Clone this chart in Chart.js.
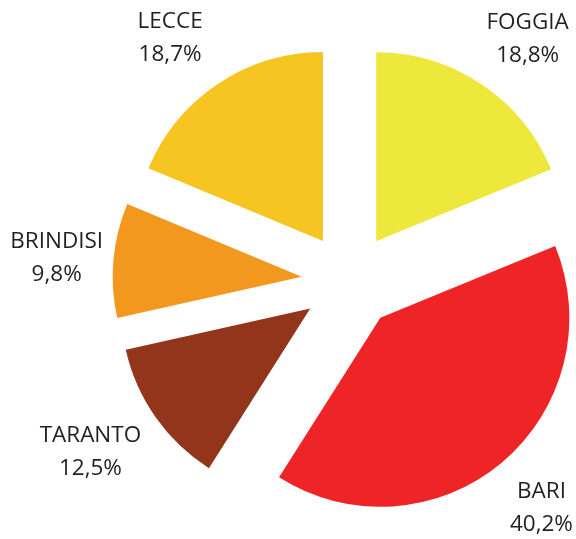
<!DOCTYPE html>
<html>
<head>
<meta charset="utf-8">
<script src="https://cdn.jsdelivr.net/npm/chart.js@4/dist/chart.umd.min.js"></script>
<style>
  html, body { margin: 0; padding: 0; background: #fff; }
  #wrap { width: 576px; height: 539px; }
</style>
</head>
<body>
<div id="wrap"><canvas id="myChartProvince"></canvas></div>
<script>
const provinceLabels = ['FOGGIA', 'BARI', 'TARANTO', 'BRINDISI', 'LECCE'];
const provinceValues = [18.8, 40.2, 12.5, 9.8, 18.7];
const provinceColors = ['#EEE73C', '#EE2426', '#93351B', '#F3981F', '#F6C522'];

// small hand nudges (px) for each label, on top of the bisector position
const labelShift = [[10, 8], [-2, -5], [-12, -3], [8, 3], [-12, 8]];

// Chart.js moves an arc by offset/4 but also grows its radius and trims its angle
// by an amount that depends on the slice size; undo both so slices look like plain wedges
const stessoRaggioPlugin = {
    id: 'stessoRaggio',
    beforeDatasetsDraw(chart) {
        const meta = chart.getDatasetMeta(0);
        const base = meta.controller.outerRadius;
        meta.data.forEach(arc => {
            const shift = (arc.options.offset || 0) / 4;
            const fix = 1 - Math.sin(Math.min(Math.PI, arc.circumference));
            const radiusOffset = shift * fix;
            arc.outerRadius = base - radiusOffset;
            const trim = radiusOffset / Math.PI / base / 2;
            arc.startAngle -= trim;
            arc.endAngle += trim;
        });
    }
};

// writes "NAME" and "xx,x%" outside each slice, along its bisector
const etichettePlugin = {
    id: 'etichette',
    afterDatasetsDraw(chart) {
        const ctx = chart.ctx;
        const meta = chart.getDatasetMeta(0);
        const base = meta.controller.outerRadius;
        ctx.save();
        ctx.fillStyle = '#231F20';
        ctx.font = '22.5px "Open Sans"';
        ctx.textAlign = 'center';
        ctx.textBaseline = 'middle';
        meta.data.forEach((arc, i) => {
            const mid = (arc.startAngle + arc.endAngle) / 2;
            const dist = base + arc.options.offset / 4 + 65;
            const lx = arc.x + Math.cos(mid) * dist + labelShift[i][0];
            const ly = arc.y + Math.sin(mid) * dist + labelShift[i][1];
            const perc = provinceValues[i].toFixed(1).replace('.', ',') + '%';
            ctx.fillText(provinceLabels[i], lx, ly - 16);
            ctx.fillText(perc, lx, ly + 17);
        });
        ctx.restore();
    }
};

const chartProvince = document.getElementById('myChartProvince').getContext('2d');

let graficoProvince = new Chart(chartProvince, {
    type: 'pie',
    data: {
        labels: provinceLabels,
        datasets: [{
            data: provinceValues,
            backgroundColor: provinceColors,
            borderWidth: 0,
            offset: 192,
            clip: false
        }]
    },
    options: {
        responsive: true,
        maintainAspectRatio: false,
        animation: false,
        events: [],
        radius: 189,
        layout: {
            padding: { left: 123, right: 0, top: 23, bottom: 0 }
        },
        plugins: {
            legend: { display: false },
            tooltip: { enabled: false }
        }
    },
    plugins: [stessoRaggioPlugin, etichettePlugin]
});
</script>
</body>
</html>
